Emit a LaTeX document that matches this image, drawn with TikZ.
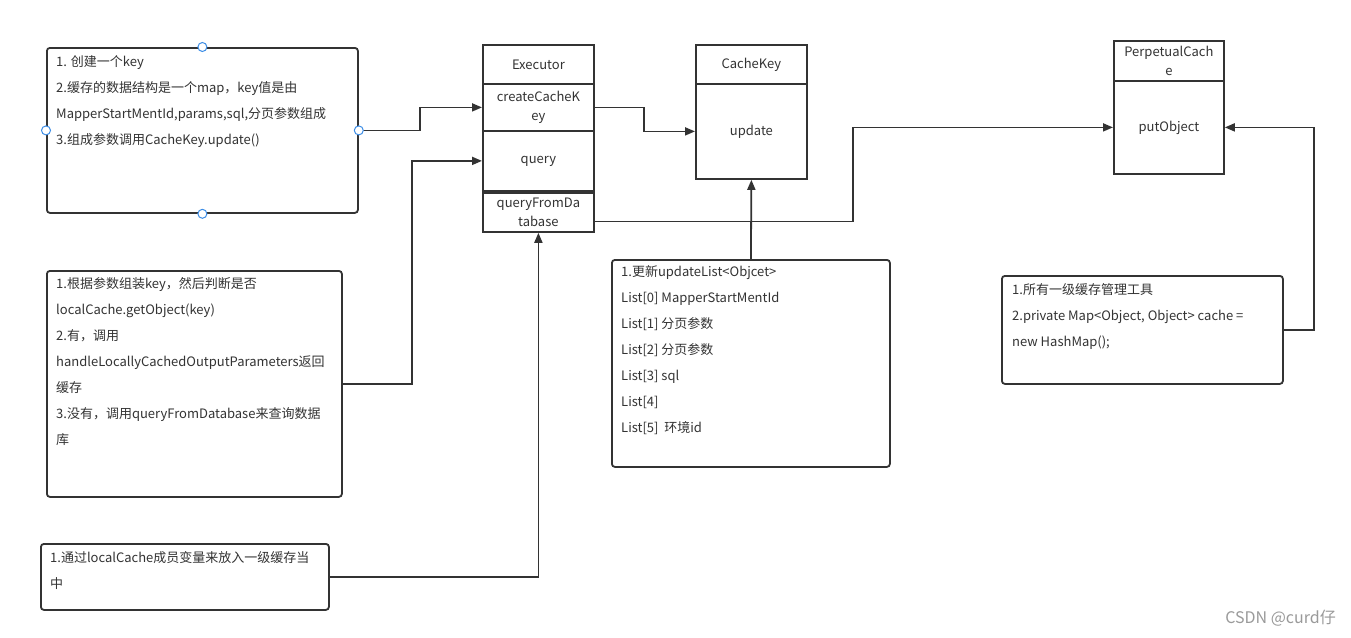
\documentclass[tikz,border=0pt]{standalone}
\usepackage{fontspec}
\setmainfont{Noto Sans CJK SC}
\usetikzlibrary{arrows.meta,calc}
\definecolor{linec}{HTML}{333333}
\definecolor{txtc}{HTML}{333333}
\definecolor{handle}{HTML}{3C8DE6}
\definecolor{wm}{HTML}{9A9A9A}
\begin{document}
\begin{tikzpicture}[x=1pt,y=-1pt,
  cls/.style={draw=linec,line width=1.8pt,minimum width=111pt,inner sep=0pt,anchor=north west,align=center,text=txtc,font=\fontsize{13}{19}\selectfont},
  note/.style={draw=linec,line width=1.8pt,rounded corners=3pt,inner sep=0pt,anchor=north west},
  notetext/.style={anchor=north west,inner sep=0pt,align=left,text=txtc,font=\fontsize{13}{26}\selectfont},
  conn/.style={draw=linec,line width=1.8pt,-{Triangle[length=10pt,width=8pt]}},
  hdl/.style={circle,draw=handle,fill=white,line width=1pt,minimum size=9pt,inner sep=0pt}]
\useasboundingbox[fill=white] (0,0) rectangle (1351,637);

% Executor
\node[cls,minimum height=39pt] (exec) at (482,44) {\raisebox{-1.5pt}{Executor}};
\node[cls,minimum height=47pt] (create) at (482,83) {createCacheK\\ey};
\node[cls,minimum height=60pt] (query) at (482,130) {\raisebox{-2pt}{query}};
\node[cls,minimum height=39pt] (qfd) at (482,192) {queryFromDa\\tabase};

% CacheKey
\node[cls,minimum height=39pt] (ck) at (695,44) {\raisebox{-1.5pt}{CacheKey}};
\node[cls,minimum height=95pt] (update) at (695,83) {\raisebox{-2pt}{update}};

% PerpetualCache
\node[cls,minimum width=110pt,minimum height=40pt] (pc) at (1113,40) {PerpetualCach\\e};
\node[cls,minimum width=110pt,minimum height=93pt] (put) at (1113,80) {\raisebox{-1.5pt}{putObject}};

% Note boxes
\node[note,minimum width=311pt,minimum height=165pt] (boxA) at (46,47) {};
\node[notetext] (tA) at (56,55) {1. 创建一个key\\2.缓存的数据结构是一个map，key值是由\\MapperStartMentId,params,sql,分页参数组成\\3.组成参数调用CacheKey.update()};

\node[note,minimum width=295pt,minimum height=226pt] (boxB) at (46,270) {};
\node[notetext] (tB) at (56,277) {1.根据参数组装key，然后判断是否\\localCache.getObject(key)\\2.有，调用\\handleLocallyCachedOutputParameters返回\\缓存\\3.没有，调用queryFromDatabase来查询数据\\库};

\node[note,minimum width=278pt,minimum height=207pt] (listbox) at (611,259) {};
\node[notetext] (tL) at (621,265) {1.更新updateList<Objcet>\\List[0] MapperStartMentId\\List[1] 分页参数\\List[2] 分页参数\\List[3] sql\\List[4]\\List[5]~ 环境id};

\node[note,minimum width=281pt,minimum height=108pt] (rbox) at (1001,275) {};
\node[notetext] (tR) at (1012,283) {1.所有一级缓存管理工具\\2.private Map<Object, Object> cache =\\new HashMap();};

\node[note,minimum width=288pt,minimum height=66pt] (bbox) at (40,543) {};
\node[notetext] (tBt) at (50,551) {1.通过localCache成员变量来放入一级缓存当\\中};

% connectors
\draw[conn] (boxA.east) -- ++(61,0) |- (create.west);
\draw[conn] (create.east) -- ++(49,0) |- (update.west);
\draw[conn] (boxB.east) -- ++(69,0) |- (query.west);
\coordinate (qfdout) at ($(qfd.east)+(0,9)$);
\draw[conn] (qfdout) -- ++(258,0) |- (put.west);
\draw[conn] (listbox.north) -- (update.south);
\draw[conn] (rbox.east) -- ++(30,0) |- (put.east);
\draw[conn] (bbox.east) -| (qfd.south);

% selection handles
\node[hdl] (h1) at (boxA.north) {};
\node[hdl] (h2) at (boxA.south) {};
\node[hdl] (h3) at (boxA.west) {};
\node[hdl] (h4) at (boxA.east) {};

% watermark
\node[anchor=east,inner sep=0pt,text=wm,font=\fontsize{16}{16}\selectfont] (wmk) at (1336,618) {CSDN @curd仔};
\end{tikzpicture}
\end{document}
